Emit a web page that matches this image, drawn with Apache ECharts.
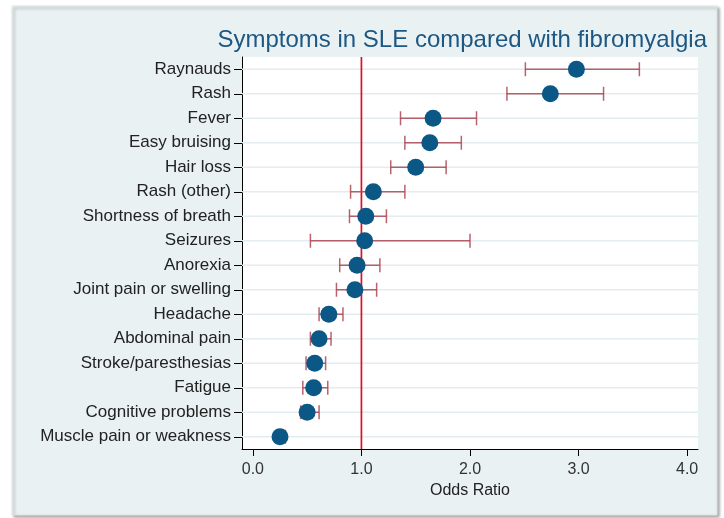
<!DOCTYPE html>
<html>
<head>
<meta charset="utf-8">
<script src="https://cdn.jsdelivr.net/npm/echarts@6/dist/echarts.min.js"></script>
<style>
  html, body { margin: 0; padding: 0; background: #fff; }
  #chart { width: 724px; height: 518px; }
</style>
</head>
<body>
<div id="chart"></div>
<script>
// symptoms, top to bottom
const symptoms = [
  'Raynauds', 'Rash', 'Fever', 'Easy bruising', 'Hair loss', 'Rash (other)',
  'Shortness of breath', 'Seizures', 'Anorexia', 'Joint pain or swelling',
  'Headache', 'Abdominal pain', 'Stroke/paresthesias', 'Fatigue',
  'Cognitive problems', 'Muscle pain or weakness'
];
const oddsRatio = [2.98, 2.74, 1.66, 1.63, 1.50, 1.11, 1.04, 1.03, 0.96, 0.94, 0.70, 0.61, 0.57, 0.56, 0.50, 0.25];
const ciLow     = [2.51, 2.34, 1.36, 1.40, 1.27, 0.90, 0.89, 0.53, 0.80, 0.77, 0.61, 0.53, 0.49, 0.46, 0.44, 0.21];
const ciHigh    = [3.56, 3.23, 2.06, 1.92, 1.78, 1.40, 1.23, 2.00, 1.17, 1.14, 0.83, 0.72, 0.67, 0.69, 0.61, 0.30];
const refLine = [1];
const xTicks = [0, 1, 2, 3, 4];

const chart = echarts.init(document.getElementById('chart'));

const ciData = symptoms.map((s, i) => [ciLow[i], ciHigh[i], i]);
const pointData = symptoms.map((s, i) => [oddsRatio[i], i]);

chart.setOption({
  animation: false,
  textStyle: { fontFamily: 'Liberation Sans, Arial, sans-serif' },
  graphic: [{
    type: 'rect',
    z: -10,
    shape: { x: 12, y: 6, width: 705, height: 509 },
    style: {
      fill: '#eaf1f2',
      stroke: '#dde5e7',
      lineWidth: 1,
      shadowColor: 'rgba(0,0,0,0.35)',
      shadowBlur: 3,
      shadowOffsetX: 2,
      shadowOffsetY: 2
    }
  }],
  title: {
    text: 'Symptoms in SLE compared with fibromyalgia',
    right: 12,
    top: 23,
    textStyle: { fontSize: 24, fontWeight: 'normal', color: '#1d5784' }
  },
  grid: { left: 242, right: 26, top: 57, bottom: 69, show: true, backgroundColor: '#fff', borderWidth: 0 },
  xAxis: {
    type: 'value',
    min: -0.1,
    max: 4.1,
    name: 'Odds Ratio',
    nameLocation: 'middle',
    nameGap: 31,
    nameTextStyle: { fontSize: 16, color: '#222' },
    axisLine: { show: true, onZero: false, lineStyle: { color: '#000', width: 1 } },
    axisTick: { show: true, length: 7, lineStyle: { color: '#000' }, customValues: xTicks },
    axisLabel: {
      fontSize: 16, color: '#333', margin: 13,
      customValues: xTicks,
      formatter: v => v.toFixed(1)
    },
    splitLine: { show: false }
  },
  yAxis: {
    type: 'category',
    inverse: true,
    data: symptoms,
    axisLine: { show: true, onZero: false, lineStyle: { color: '#000', width: 1 } },
    axisTick: { show: true, alignWithLabel: true, length: 8, lineStyle: { color: '#000' } },
    axisLabel: { fontSize: 17, color: '#222', margin: 11 },
    splitLine: { show: false }
  },
  series: [
    {
      // horizontal grid lines at each category
      type: 'custom',
      z: 1,
      silent: true,
      data: symptoms.map((s, i) => [i]),
      encode: { y: 0 },
      renderItem: function (params, api) {
        const y = api.coord([0, api.value(0)])[1];
        const cs = params.coordSys;
        return {
          type: 'line',
          shape: { x1: cs.x, y1: y, x2: cs.x + cs.width, y2: y },
          style: { stroke: '#e3ecee', lineWidth: 1.5 }
        };
      }
    },
    {
      // vertical reference line at OR = 1
      type: 'custom',
      z: 2,
      silent: true,
      data: refLine.map(v => [v]),
      encode: { x: 0 },
      renderItem: function (params, api) {
        const x = api.coord([api.value(0), 0])[0];
        const cs = params.coordSys;
        return {
          type: 'line',
          shape: { x1: x, y1: cs.y, x2: x, y2: cs.y + cs.height },
          style: { stroke: '#dc0f2d', lineWidth: 1.7 }
        };
      }
    },
    {
      // confidence intervals
      type: 'custom',
      z: 3,
      data: ciData,
      encode: { x: [0, 1], y: 2 },
      renderItem: function (params, api) {
        const idx = api.value(2);
        const p1 = api.coord([api.value(0), idx]);
        const p2 = api.coord([api.value(1), idx]);
        const h = 7;
        const style = { stroke: '#ad4655', lineWidth: 1.5, opacity: 0.85 };
        return {
          type: 'group',
          children: [
            { type: 'line', shape: { x1: p1[0], y1: p1[1], x2: p2[0], y2: p2[1] }, style: style },
            { type: 'line', shape: { x1: p1[0], y1: p1[1] - h, x2: p1[0], y2: p1[1] + h }, style: style },
            { type: 'line', shape: { x1: p2[0], y1: p2[1] - h, x2: p2[0], y2: p2[1] + h }, style: style }
          ]
        };
      }
    },
    {
      type: 'scatter',
      z: 5,
      data: pointData,
      symbol: 'circle',
      symbolSize: 17,
      itemStyle: { color: '#0b5886', opacity: 1 }
    }
  ]
});
</script>
</body>
</html>
